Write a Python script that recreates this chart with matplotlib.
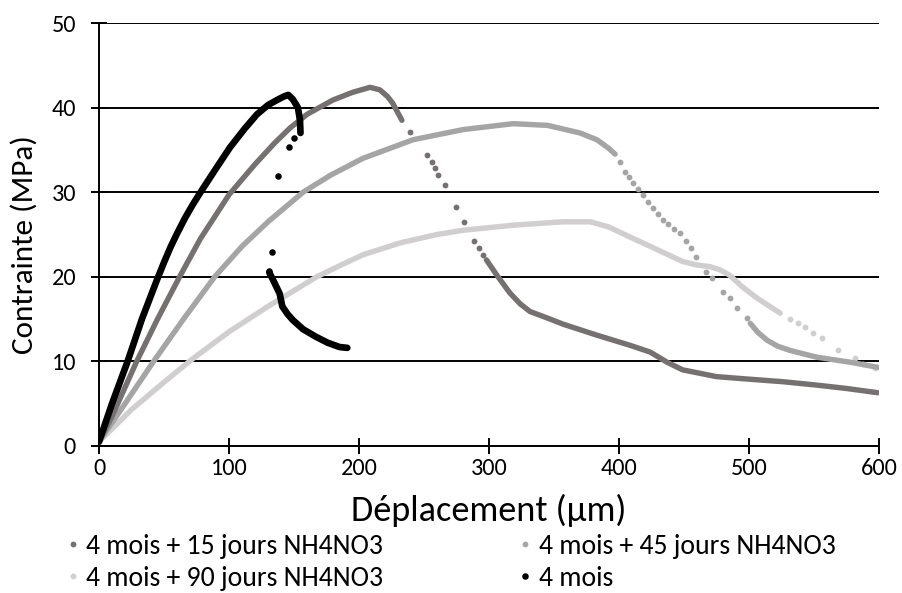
import matplotlib
matplotlib.use("Agg")
import matplotlib.pyplot as plt
from matplotlib import font_manager
from matplotlib.font_manager import FontProperties

# ---------------- data ----------------
xlabel = "Déplacement (µm)"
ylabel = "Contrainte (MPa)"
xticks = [0, 100, 200, 300, 400, 500, 600]
yticks = [0, 10, 20, 30, 40, 50]

labels = ["4 mois + 15 jours NH4NO3", "4 mois + 45 jours NH4NO3",
          "4 mois + 90 jours NH4NO3", "4 mois"]
colors = ["#767171", "#a5a5a5", "#d0cece", "#000000"]

# 4 mois + 15 jours NH4NO3
s15_x1 = [0, 10, 29, 45, 62, 78, 100, 120, 135, 147, 160, 180, 195, 208.5, 216, 222, 226, 233]
s15_y1 = [0.5, 3.5, 10, 15, 20, 24.5, 29.7, 33.3, 35.8, 37.6, 39.2, 40.9, 41.8, 42.4, 42.1, 41.3, 40.5, 38.5]
s15_xd = [239, 252, 256, 258.5, 261, 266, 274.6, 281, 288.5, 292, 295.5]
s15_yd = [37.1, 34.4, 33.6, 32.9, 32.0, 30.9, 28.3, 26.5, 24.2, 23.4, 22.6]
s15_x2 = [298, 306, 316, 324, 331.5, 347, 357, 383, 408.5, 424, 437, 449, 475, 500, 526, 552, 575, 599]
s15_y2 = [22, 20.2, 18.1, 16.8, 15.9, 15.0, 14.4, 13.1, 11.9, 11.1, 9.9, 9.0, 8.2, 7.9, 7.6, 7.2, 6.8, 6.3]

# 4 mois + 45 jours NH4NO3
s45_x1 = [0, 20, 42, 65, 89, 110, 130, 157, 178, 203, 241.5, 280, 318.5, 345, 370, 383, 392, 397]
s45_y1 = [0.5, 5, 10, 15, 20, 23.6, 26.5, 30, 32, 34, 36.2, 37.4, 38.1, 37.9, 37, 36.2, 35.2, 34.5]
s45_xd = [400.8, 404.6, 407.7, 410.8, 414.6, 418.5, 422, 426, 430, 434, 438, 442, 447,
          451.5, 455, 459, 467, 471.5, 480, 485, 491, 498.5]
s45_yd = [33.6, 32.4, 31.8, 31.1, 30.4, 29.7, 28.8, 28.1, 27.4, 26.7, 26.2, 25.7, 25.2,
          24.2, 23.4, 22.3, 20.6, 19.9, 18.2, 17.5, 16.3, 15.1]
s45_x2 = [501, 507, 514, 522, 531.5, 552, 578, 599]
s45_y2 = [14.5, 13.4, 12.5, 11.8, 11.3, 10.5, 9.9, 9.3]

# 4 mois + 90 jours NH4NO3
s90_x1 = [0, 25, 52, 72, 100, 130, 167.5, 185, 203, 231.5, 260, 280, 318.5, 357, 378,
          392, 408.5, 424, 449, 460, 470, 478, 485, 495, 506, 524]
s90_y1 = [0.5, 4.3, 7.8, 10.3, 13.5, 16.5, 20, 21.3, 22.6, 24, 25, 25.5, 26.1, 26.5, 26.5,
          25.9, 24.7, 23.6, 21.8, 21.4, 21.2, 20.8, 20.2, 18.8, 17.5, 15.7]
s90_xd = [531.5, 538, 543, 549, 556, 568.5, 581.5, 587.7, 597]
s90_yd = [15.0, 14.5, 14.1, 13.4, 12.8, 11.3, 10.4, 9.7, 9.2]

# 4 mois
s4_x1 = [0, 10, 22, 33, 44.5, 50, 55, 60, 66, 72, 77.7, 90, 100.8, 112, 121.5, 130, 137,
         142, 145.6, 149, 153, 154.6, 155]
s4_y1 = [0.5, 5, 10, 15, 19.6, 21.7, 23.5, 25.1, 26.9, 28.5, 29.9, 32.8, 35.3, 37.5, 39.2,
         40.3, 40.9, 41.3, 41.5, 41.0, 40, 38.5, 37]
s4_xd = [150, 146, 137.5, 133, 131]
s4_yd = [36.4, 35.4, 31.9, 22.9, 20.7]
s4_x2 = [131, 134, 139, 141, 145, 149, 157, 167, 176, 185, 191]
s4_y2 = [20.5, 19.6, 18, 16.5, 15.6, 14.9, 13.8, 12.9, 12.2, 11.7, 11.6]


# ---------------- fonts ----------------
def pick(names):
    for n in names:
        try:
            font_manager.findfont(FontProperties(family=n), fallback_to_default=False)
            return n
        except Exception:
            pass
    return "DejaVu Sans"


fam = pick(["Carlito", "Lato", "Open Sans"])
plt.rcParams["font.family"] = [fam, "DejaVu Sans"]

fig = plt.figure(figsize=(9.02, 5.93), dpi=100)
ax = fig.add_axes([99 / 902, 1 - 446 / 593, 780 / 902, 423 / 593])

lw = 3.9
ms = 4.2
series = [
    (s15_x1, s15_y1, s15_xd, s15_yd, s15_x2, s15_y2),
    (s45_x1, s45_y1, s45_xd, s45_yd, s45_x2, s45_y2),
    (s90_x1, s90_y1, s90_xd, s90_yd, None, None),
    (s4_x1, s4_y1, s4_xd, s4_yd, s4_x2, s4_y2),
]
zorders = [3, 2, 1, 4]
handles = []
for (x1, y1, xd, yd, x2, y2), c, lab, z in zip(series, colors, labels, zorders):
    w = lw + (0.9 if c == "#000000" else 0)
    ax.plot(x1, y1, color=c, lw=w, solid_capstyle="round", solid_joinstyle="round", zorder=z)
    if x2 is not None:
        ax.plot(x2, y2, color=c, lw=w, solid_capstyle="round", solid_joinstyle="round", zorder=z)
    h, = ax.plot(xd, yd, ls="", marker="o", ms=ms + (0.5 if c == "#000000" else 0),
                 mec="none", color=c, zorder=z, label=lab)
    handles.append(h)

ax.set_xlim(0, 600)
ax.set_ylim(0, 50)
ax.set_xticks(xticks)
ax.set_yticks(yticks)
ax.grid(axis="y", color="black", lw=1.4)
ax.set_axisbelow(True)
for s in ["top", "right"]:
    ax.spines[s].set_visible(False)
for s in ["left", "bottom"]:
    ax.spines[s].set_color("black")
    ax.spines[s].set_linewidth(1.4)
ax.tick_params(direction="inout", length=11, width=1.4, colors="black", labelsize=17.5)
ax.tick_params(axis="y", pad=11)
ax.tick_params(axis="x", pad=3)
ax.set_xlabel(xlabel, fontsize=26, labelpad=11)
ax.set_ylabel(ylabel, fontsize=22.5)
ax.yaxis.set_label_coords((38 - 99) / 780, (446 - 245) / 423)

order = [0, 2, 1, 3]
leg = fig.legend([handles[i] for i in order], [labels[i] for i in order],
                 ncol=2, loc="upper left", bbox_to_anchor=(67 / 902, 1 - 534 / 593),
                 frameon=False, fontsize=20, handlelength=0.4, handletextpad=0.3,
                 columnspacing=4.9, labelspacing=0.24, borderpad=0, borderaxespad=0,
                 markerscale=1.0)

fig.savefig("out.png", dpi=100)
